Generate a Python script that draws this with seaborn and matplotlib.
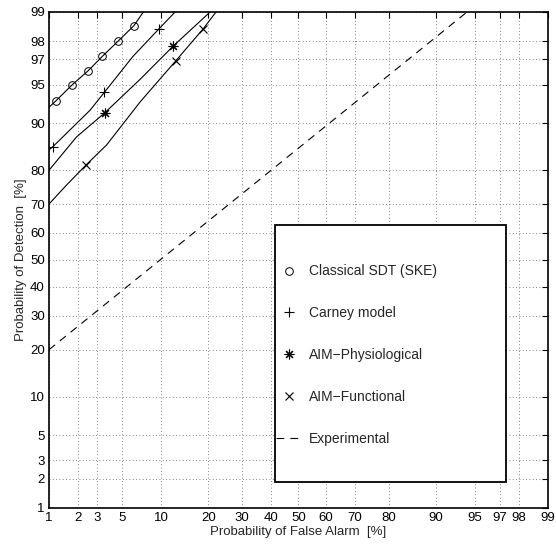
import numpy as np
import matplotlib
matplotlib.use("Agg")
import matplotlib.pyplot as plt
from matplotlib.lines import Line2D
from matplotlib.patches import Rectangle
import seaborn as sns
from statistics import NormalDist

# values, in percent (false alarm, detection)
sdt_fa = [1.0, 1.18, 1.75, 2.49, 3.38, 4.64, 6.24, 7.4]
sdt_pd = [92.4, 93.2, 95.0, 96.2, 97.2, 98.0, 98.6, 99.0]
sdt_marks = [1, 2, 3, 4, 5, 6]

carney_fa = [1.0, 1.1, 1.73, 2.6, 3.51, 6.15, 9.7, 12.5]
carney_pd = [84.9, 85.6, 89.2, 92.0, 94.2, 97.2, 98.5, 99.0]
carney_marks = [1, 4, 6]

phys_fa = [1.0, 1.93, 3.53, 7.0, 12.1, 20.5]
phys_pd = [80.0, 87.6, 91.6, 95.5, 97.75, 99.0]
phys_marks = [2, 4]

func_fa = [1.0, 1.53, 2.37, 3.69, 7.0, 12.6, 18.75, 22.1]
func_pd = [70.0, 75.9, 81.3, 86.0, 93.1, 96.9, 98.5, 99.0]
func_marks = [2, 5, 6]

exp_fa = [1.0, 94.2]
exp_pd = [20.0, 99.0]

ticks = [1, 2, 3, 5, 10, 20, 30, 40, 50, 60, 70, 80, 90, 95, 97, 98, 99]
labels = ["Classical SDT (SKE)", "Carney model", "AIM\u2212Physiological",
          "AIM\u2212Functional", "Experimental"]

sns.set_style("white")
plt.rcParams["font.family"] = ["Liberation Sans", "DejaVu Sans"]

nd = NormalDist()
_ppf = np.vectorize(nd.inv_cdf, otypes=[float])
_cdf = np.vectorize(nd.cdf, otypes=[float])


def fwd(p):
    p = np.clip(np.asarray(p, dtype=float) / 100.0, 1e-9, 1 - 1e-9)
    return _ppf(p)


def inv(z):
    return 100.0 * _cdf(np.asarray(z, dtype=float))


fig = plt.figure(figsize=(5.56, 5.44), dpi=100)
ax = fig.add_axes([0.0881, 0.0662, 0.8975, 0.9118])
ax.set_xscale("function", functions=(fwd, inv))
ax.set_yscale("function", functions=(fwd, inv))

lw = 0.8
dash = (0, (7, 5.5))
sns.lineplot(x=sdt_fa, y=sdt_pd, sort=False, estimator=None, color="k", lw=lw,
             marker="o", mfc="none", mec="k", ms=5.5, mew=0.7,
             markevery=sdt_marks, ax=ax)
sns.lineplot(x=carney_fa, y=carney_pd, sort=False, estimator=None, color="k", lw=lw,
             marker="+", mec="k", ms=6.5, mew=0.8,
             markevery=carney_marks, ax=ax)
sns.lineplot(x=phys_fa, y=phys_pd, sort=False, estimator=None, color="k", lw=lw,
             marker=(8, 2, 0), mec="k", ms=7, mew=0.8,
             markevery=phys_marks, ax=ax)
sns.lineplot(x=func_fa, y=func_pd, sort=False, estimator=None, color="k", lw=lw,
             marker="x", mec="k", ms=6, mew=0.8,
             markevery=func_marks, ax=ax)
sns.lineplot(x=exp_fa, y=exp_pd, sort=False, estimator=None, color="k", lw=lw,
             dashes=False, ax=ax)
ax.lines[-1].set_linestyle(dash)

ax.set_xlim(1, 99)
ax.set_ylim(1, 99)
ax.set_xticks(ticks)
ax.set_yticks(ticks)
ax.set_xticklabels([str(t) for t in ticks], fontsize=9.5)
ax.set_yticklabels([str(t) for t in ticks], fontsize=9.5)
ax.minorticks_off()
ax.tick_params(direction="in", top=True, right=True, length=4, width=0.8,
               pad=3, colors="k")
ax.grid(True, ls=(0, (1, 3)), color="0.35", lw=0.6)
for sp in ax.spines.values():
    sp.set_color("k")
    sp.set_linewidth(1.2)

ax.set_xlabel("Probability of False Alarm  [%]", fontsize=9.5, labelpad=1)
ax.set_ylabel("Probability of Detection  [%]", fontsize=9.5, labelpad=2)

# legend box
ax.add_patch(Rectangle((0.453, 0.052), 0.463, 0.519, transform=ax.transAxes,
                       facecolor="white", edgecolor="k", lw=1.3, zorder=4))
handles = [
    Line2D([], [], ls="none", marker="o", mfc="none", mec="k", ms=5.5, mew=0.7),
    Line2D([], [], ls="none", marker="+", mec="k", ms=6.5, mew=0.8),
    Line2D([], [], ls="none", marker=(8, 2, 0), mec="k", ms=7, mew=0.8),
    Line2D([], [], ls="none", marker="x", mec="k", ms=6, mew=0.8),
    Line2D([], [], color="k", lw=lw, ls=dash),
]
leg = ax.legend(handles, labels, loc="upper left", bbox_to_anchor=(0.455, 0.491),
                frameon=False, fontsize=10, labelspacing=2.0, handlelength=1.8,
                handletextpad=0.6, borderpad=0, borderaxespad=0)
leg.set_zorder(5)

fig.savefig("out.png", dpi=100)
